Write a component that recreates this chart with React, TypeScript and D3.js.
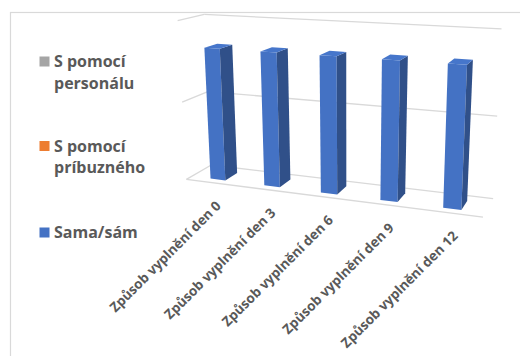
import React from 'react';
import * as d3 from 'd3';

// Answers per questionnaire round (stacked 3-D columns)
const categories = [
  'Způsob vyplnění den 0',
  'Způsob vyplnění den 3',
  'Způsob vyplnění den 6',
  'Způsob vyplnění den 9',
  'Způsob vyplnění den 12',
];
const samaSam = [25, 25, 25, 25, 25];
const pomociPribuzneho = [0, 0, 0, 0, 0];
const pomociPersonalu = [0, 0, 0, 0, 0];
const seriesKeys = ['samaSam', 'pomociPribuzneho', 'pomociPersonalu'];
const seriesNames = ['Sama/sám', 'S pomocí\npríbuzného', 'S pomocí\npersonálu'];
const seriesColors = ['#4472C4', '#ED7D31', '#A5A5A5'];
const valueTicks = [0, 15, 30];

const WIDTH = 520;
const HEIGHT = 356;

// 3-D box (world units) and camera
const BOX_W = 287;
const BOX_D = 48;
const BOX_H = 153;
const BAR_FRONT = 10;
const BAR_DEPTH_RATIO = 1.5;
const ROT_X = (15 * Math.PI) / 180;
const ROT_Y = (20 * Math.PI) / 180;
const FOCAL = 800;
const EYE = { x: 397, y: 250, z: -633 };
const SCREEN_C = { x: 349, y: 125 };

function project(x: number, y: number, z: number): [number, number] {
  const X = x - EYE.x;
  const Y = y - EYE.y;
  const Z = z - EYE.z;
  const x1 = X * Math.cos(ROT_Y) + Z * Math.sin(ROT_Y);
  const z1 = -X * Math.sin(ROT_Y) + Z * Math.cos(ROT_Y);
  const y2 = Y * Math.cos(ROT_X) + z1 * Math.sin(ROT_X);
  const z2 = -Y * Math.sin(ROT_X) + z1 * Math.cos(ROT_X);
  return [SCREEN_C.x + (FOCAL * x1) / z2, SCREEN_C.y - (FOCAL * y2) / z2];
}

const poly = (pts: [number, number, number][]) =>
  pts.map((p) => project(p[0], p[1], p[2]).map((v) => v.toFixed(2)).join(',')).join(' ');

export default function App() {
  const rows = categories.map((c, i) => ({
    category: c,
    samaSam: samaSam[i],
    pomociPribuzneho: pomociPribuzneho[i],
    pomociPersonalu: pomociPersonalu[i],
  }));
  const stacked = d3.stack<any>().keys(seriesKeys)(rows);

  const xScale = d3
    .scaleBand<string>()
    .domain(categories)
    .range([0, BOX_W])
    .paddingInner(0.72)
    .paddingOuter(0.36);
  const yScale = d3.scaleLinear().domain([0, valueTicks[valueTicks.length - 1]]).range([0, BOX_H]);
  const bw = xScale.bandwidth();
  const z0 = BAR_FRONT;
  const z1 = BAR_FRONT + bw * BAR_DEPTH_RATIO;

  const grid = '#D9D9D9';
  const textColor = '#595959';
  const font = "'Open Sans', sans-serif";

  // bars from the far (left) end to the near (right) end, bottom segment first
  const bars: JSX.Element[] = [];
  categories.forEach((cat, ci) => {
    stacked.forEach((s, si) => {
      const [v0, v1] = s[ci];
      if (v1 - v0 <= 0) return;
      const x0 = xScale(cat)!;
      const x1 = x0 + bw;
      const y0 = yScale(v0);
      const y1 = yScale(v1);
      const base = d3.color(seriesColors[si])!;
      bars.push(
        <g key={`${ci}-${si}`}>
          <polygon
            points={poly([[x0, y0, z0], [x1, y0, z0], [x1, y1, z0], [x0, y1, z0]])}
            fill={seriesColors[si]}
          />
          <polygon
            points={poly([[x1, y0, z0], [x1, y0, z1], [x1, y1, z1], [x1, y1, z0]])}
            fill={base.darker(1).formatHex()}
          />
          <polygon
            points={poly([[x0, y1, z0], [x1, y1, z0], [x1, y1, z1], [x0, y1, z1]])}
            fill={base.brighter(0.1).formatHex()}
          />
        </g>
      );
    });
  });

  const line = (a: [number, number, number], b: [number, number, number], key: string) => {
    const p = project(...a);
    const q = project(...b);
    return <line key={key} x1={p[0]} y1={p[1]} x2={q[0]} y2={q[1]} stroke={grid} strokeWidth={1.3} />;
  };

  const legendY = [232.5, 146, 61.5];

  return (
    <svg
      width={WIDTH}
      height={HEIGHT}
      style={{ position: 'absolute', left: 0, top: 0, background: '#fff' }}
      fontFamily={font}
    >
      <rect x={10.5} y={12.5} width={WIDTH} height={HEIGHT} fill="#fff" stroke={grid} strokeWidth={1.2} />

      {valueTicks.map((t) => (
        <g key={`g${t}`}>
          {line([0, yScale(t), 0], [0, yScale(t), BOX_D], `s${t}`)}
          {line([0, yScale(t), BOX_D], [BOX_W, yScale(t), BOX_D], `b${t}`)}
        </g>
      ))}
      {line([0, 0, 0], [BOX_W, 0, 0], 'axis')}

      {bars}

      {categories.map((c) => {
        const [px, py] = project(xScale(c)! + bw / 2, 0, 0);
        return (
          <text
            key={c}
            transform={`translate(${px + 9},${py + 24}) rotate(-45)`}
            textAnchor="end"
            fontSize={13.5}
            fontWeight={700}
            fill={textColor}
          >
            {c}
          </text>
        );
      })}

      {seriesNames.map((name, i) => {
        const cy = legendY[i];
        const lines = name.split('\n');
        return (
          <g key={name}>
            <rect x={39.5} y={cy - 5} width={10} height={10} fill={seriesColors[i]} />
            <text x={54} y={cy + 5.5} fontSize={16} fontWeight={700} fill={textColor}>
              {lines.map((l, li) => (
                <tspan key={li} x={54} dy={li === 0 ? 0 : 21.5}>
                  {l}
                </tspan>
              ))}
            </text>
          </g>
        );
      })}
    </svg>
  );
}
